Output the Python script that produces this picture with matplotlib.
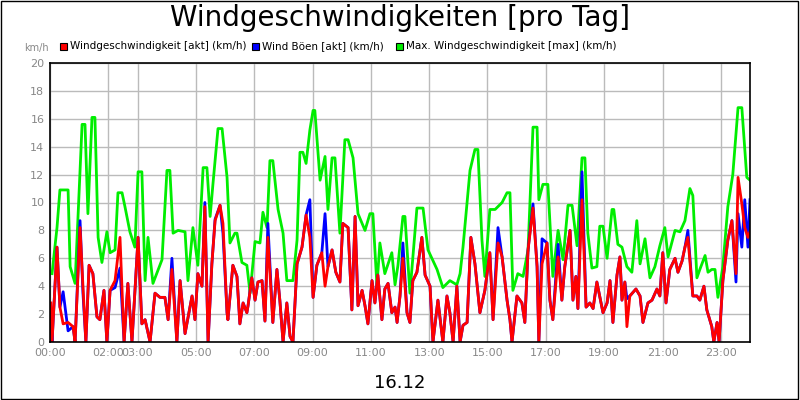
import matplotlib
matplotlib.use("Agg")
import matplotlib.pyplot as plt
from matplotlib.patches import Rectangle

t_max = [0.07,0.24,0.34,0.62,0.69,0.86,1.10,1.20,1.30,1.44,1.54,1.65,1.78,1.95,2.06,2.23,2.33,2.47,2.57,2.74,2.91,3.02,3.15,3.26,3.36,3.53,3.84,4.01,4.11,4.22,4.39,4.63,4.73,4.90,5.07,5.25,5.38,5.49,5.59,5.76,5.90,6.07,6.17,6.34,6.41,6.58,6.75,6.86,7.03,7.20,7.30,7.44,7.54,7.64,7.82,7.99,8.12,8.33,8.47,8.57,8.67,8.78,8.91,9.02,9.08,9.26,9.43,9.53,9.67,9.77,9.94,10.11,10.22,10.39,10.56,10.80,10.97,11.07,11.21,11.31,11.48,11.72,11.83,11.93,12.10,12.17,12.34,12.58,12.79,12.96,13.27,13.47,13.71,13.95,14.06,14.16,14.40,14.57,14.67,14.81,14.91,15.08,15.26,15.50,15.67,15.77,15.87,16.04,16.22,16.39,16.56,16.70,16.76,16.90,17.07,17.24,17.42,17.59,17.76,17.90,18.07,18.24,18.34,18.44,18.58,18.75,18.85,18.96,19.10,19.27,19.33,19.47,19.61,19.78,19.95,20.12,20.23,20.40,20.57,20.74,20.91,21.08,21.19,21.43,21.60,21.77,21.94,22.04,22.18,22.28,22.46,22.56,22.69,22.80,22.90,23.07,23.24,23.41,23.59,23.72,23.89,24.0]
v_max = [4.9,8.2,10.9,10.9,5.4,4.2,15.6,15.6,9.2,16.1,16.1,7.5,5.7,7.9,6.4,6.6,10.7,10.7,9.7,7.9,6.8,12.2,12.2,4.4,7.5,4.2,5.9,12.3,12.3,7.8,8.0,7.9,4.4,8.2,5.5,12.5,12.5,9.0,11.4,15.3,15.3,11.8,7.1,7.8,7.8,5.7,5.5,3.5,7.2,7.1,9.3,8.2,13.0,13.0,9.5,7.8,4.4,4.4,7.3,13.6,13.6,12.8,15.2,16.6,16.6,11.6,13.3,9.5,13.2,13.2,7.8,14.5,14.5,13.2,9.2,8.0,9.2,9.2,4.0,7.1,4.9,6.4,4.1,5.5,9.0,9.0,3.5,9.6,9.6,6.6,5.2,3.9,4.4,4.1,4.9,6.8,12.3,13.8,13.8,7.3,4.7,9.5,9.5,10.0,10.7,10.7,3.7,4.9,4.7,6.6,15.4,15.4,10.2,11.3,11.3,4.7,8.0,5.9,9.8,9.8,6.9,13.2,13.2,7.8,5.3,5.4,8.3,8.3,6.0,9.5,9.5,7.0,6.8,5.4,5.0,8.7,5.6,7.4,4.6,5.4,6.9,8.2,6.1,8.0,7.9,8.7,11.0,10.5,4.6,5.2,6.2,5.0,5.2,5.2,3.2,5.4,9.7,12.0,16.8,16.8,11.8,11.6]

t_akt = [0.03,0.07,0.24,0.34,0.45,0.62,0.79,0.86,1.03,1.13,1.23,1.34,1.47,1.61,1.71,1.85,1.95,2.06,2.23,2.40,2.54,2.67,2.81,3.02,3.15,3.26,3.43,3.60,3.77,3.94,4.05,4.18,4.35,4.46,4.63,4.87,4.97,5.07,5.21,5.31,5.42,5.55,5.66,5.83,5.93,6.07,6.10,6.27,6.41,6.51,6.62,6.75,6.79,6.92,7.03,7.13,7.27,7.37,7.47,7.64,7.78,7.88,7.99,8.12,8.23,8.33,8.47,8.64,8.78,8.91,9.02,9.15,9.32,9.43,9.53,9.67,9.80,9.94,10.04,10.22,10.35,10.46,10.56,10.70,10.80,10.90,11.04,11.14,11.24,11.38,11.48,11.59,11.72,11.83,11.90,12.00,12.10,12.24,12.34,12.44,12.58,12.75,12.86,13.03,13.13,13.30,13.47,13.61,13.71,13.82,13.95,14.06,14.16,14.30,14.43,14.57,14.74,14.91,15.08,15.19,15.36,15.50,15.67,15.77,15.84,16.01,16.18,16.28,16.39,16.56,16.70,16.76,16.87,17.04,17.14,17.24,17.42,17.55,17.65,17.83,17.93,18.03,18.10,18.24,18.38,18.51,18.62,18.75,18.96,19.10,19.20,19.30,19.44,19.54,19.61,19.71,19.78,19.88,20.09,20.23,20.33,20.50,20.64,20.81,20.91,21.01,21.12,21.25,21.43,21.53,21.67,21.77,21.87,22.04,22.18,22.28,22.42,22.52,22.69,22.76,22.87,22.94,23.07,23.24,23.38,23.52,23.59,23.72,23.82,23.93,24.0]
v_akt = [2.8,0,6.8,2.5,1.3,1.4,1.1,0,8.2,4.0,0,5.5,4.9,1.8,1.6,3.7,0,3.7,4.4,7.5,0,4.2,0,7.5,1.3,1.6,0,3.5,3.2,3.2,1.6,5.2,0,4.4,0.6,3.3,1.6,4.9,4.0,9.7,0,5.6,8.7,9.8,8.5,2.1,1.6,5.5,4.7,1.3,2.8,2.1,2.6,4.6,3.0,4.3,4.4,1.5,7.5,1.4,5.2,3.0,0,2.8,0.4,0,5.6,6.8,9.1,7.5,3.2,5.5,6.4,4.0,5.4,6.6,5.0,4.3,8.5,8.2,2.3,9.0,2.6,3.7,2.6,1.3,4.4,2.8,4.8,1.6,3.8,4.2,2.1,2.5,1.4,3.3,6.0,2.1,1.4,4.4,5.0,7.5,4.8,4.0,0,3.0,0,3.3,2.1,0,4.0,0,1.2,1.4,7.5,5.6,2.1,3.7,6.4,1.6,7.1,6.1,3.0,1.6,0,3.3,2.8,1.4,6.6,9.6,5.4,0,5.6,7.1,3.0,1.6,6.1,3.0,5.4,8.0,3.0,4.7,2.4,10.2,2.5,2.8,2.4,4.3,2.1,2.8,4.4,1.4,4.8,6.1,3.0,4.3,1.1,3.3,3.8,3.3,1.4,2.8,3.0,3.8,3.3,6.4,2.8,5.2,6.0,5.0,5.8,6.8,7.5,3.3,3.3,3.0,4.0,2.3,1.1,0,1.4,0,4.4,7.3,8.7,4.9,11.8,9.9,8.2,7.5,7.9]
v_boe = [2.0,0,6.8,2.5,3.6,0.8,1.1,0,8.7,3.5,0,5.5,4.9,1.8,1.6,3.7,0,3.7,3.9,5.3,0,4.2,0,7.5,1.3,1.6,0,3.5,3.2,3.2,1.6,6.0,0,4.4,0.6,3.3,1.6,4.9,4.0,10.0,0,5.6,8.8,9.8,7.8,2.1,1.6,5.5,4.7,1.3,2.8,2.1,2.6,4.6,3.0,4.3,4.4,1.5,8.5,1.4,5.2,3.0,0,2.8,0.4,0,5.6,6.8,9.1,10.2,3.2,5.5,6.4,9.2,5.4,6.6,5.0,4.3,8.5,8.2,2.3,9.0,2.6,3.7,2.6,1.3,4.4,2.8,4.8,1.6,3.8,4.2,2.1,2.5,1.4,3.3,7.1,2.1,1.4,4.4,5.0,7.5,4.8,4.0,0,3.0,0,3.3,2.1,0,4.0,0,1.2,1.4,7.5,5.6,2.1,3.7,6.4,1.6,8.2,6.1,3.0,1.6,0,3.3,2.8,1.4,6.6,9.9,5.4,0,7.4,7.1,3.0,1.6,7.0,3.0,5.4,8.0,3.0,4.7,2.4,12.2,2.5,2.8,2.4,4.3,2.1,2.8,4.4,1.4,4.8,6.1,3.0,4.3,3.1,3.3,3.8,3.3,1.4,2.8,3.0,3.8,3.3,6.4,2.8,5.2,6.0,5.0,5.8,6.8,8.0,3.3,3.3,3.0,4.0,2.3,1.1,0,1.4,0,4.4,7.3,8.7,4.3,9.2,6.8,10.2,6.8,10.2]

tick_pos = [0, 2, 3, 5, 7, 9, 11, 13, 15, 17, 19, 21, 23]
tick_lab = ["00:00","02:00","03:00","05:00","07:00","09:00","11:00","13:00","15:00","17:00","19:00","21:00","23:00"]
y_ticks = list(range(0, 21, 2))

fig = plt.figure(figsize=(8, 4), dpi=100, facecolor="white")
fig.patches.append(Rectangle((0.001, 0.002), 0.997, 0.996, transform=fig.transFigure,
                             fill=False, edgecolor="black", linewidth=1))
ax = fig.add_axes([0.0625, 0.145, 0.875, 0.6975])
ax.plot(t_max, v_max, color="#00ee00", lw=2)
ax.plot(t_akt, v_boe, color="#0000ff", lw=2)
ax.plot(t_akt, v_akt, color="#ff0000", lw=2)
ax.set_xlim(0, 24)
ax.set_ylim(0, 20)
ax.set_xticks(tick_pos)
ax.set_xticklabels(tick_lab)
ax.set_yticks(y_ticks)
ax.grid(True, color="#bbbbbb", lw=1)
ax.set_axisbelow(True)
ax.tick_params(labelsize=8, labelcolor="#888888", length=0, pad=4)
for s in ax.spines.values():
    s.set_linewidth(1.2)
ax.set_xlabel("16.12", fontsize=13, labelpad=12)

fig.text(0.5, 0.955, "Windgeschwindigkeiten [pro Tag]", ha="center", va="center", fontsize=20)
fig.text(0.03, 0.88, "km/h", fontsize=7, color="#888888", va="center")
legend = [("Windgeschwindigkeit [akt] (km/h)", "#ff0000", 0.075),
          ("Wind Böen [akt] (km/h)", "#0000ff", 0.315),
          ("Max. Windgeschwindigkeit [max] (km/h)", "#00ee00", 0.495)]
for lab, col, x in legend:
    fig.patches.append(Rectangle((x, 0.875), 0.009, 0.018, transform=fig.transFigure,
                                 facecolor=col, edgecolor="black", lw=0.8))
    fig.text(x + 0.012, 0.885, lab, fontsize=7.5, va="center")

fig.savefig("out.png", dpi=100, facecolor="white")
